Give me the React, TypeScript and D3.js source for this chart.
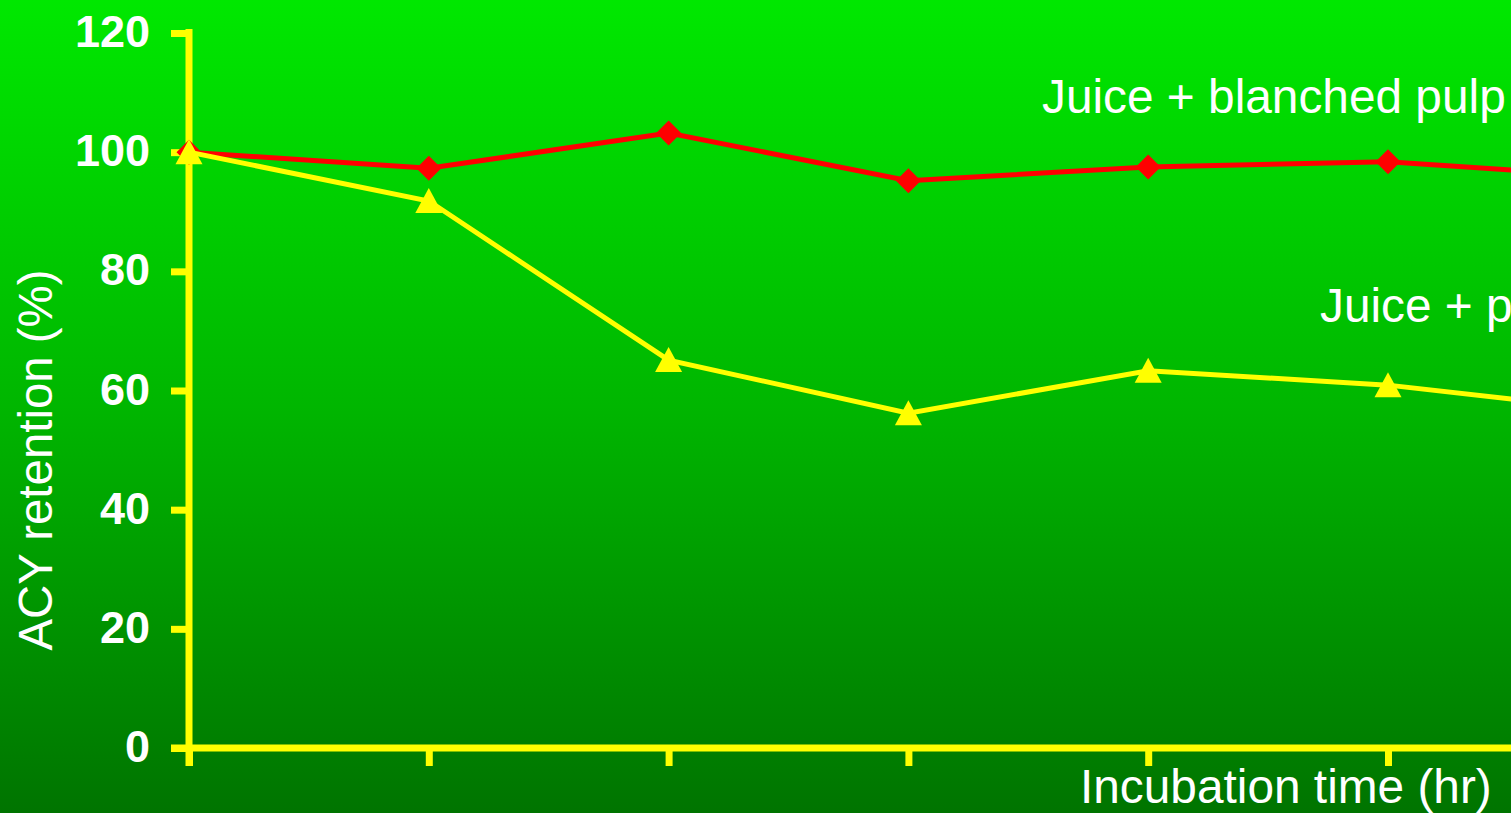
import React from "react";
import * as d3 from "d3";

// incubation time points (index), x axis has no labels
const timePoints = [0, 1, 2, 3, 4, 5, 6];
const blanchedPulp = [100, 97.3, 103.2, 95.2, 97.5, 98.4, 95.7];
const rawPulp = [100, 91.8, 65.1, 56.2, 63.3, 60.9, 56.4];
const yTicks = [0, 20, 40, 60, 80, 100, 120];

const W = 1511;
const H = 813;
const FONT = "'Liberation Sans', Arial, Helvetica, sans-serif";

const App: React.FC = () => {
  const svgRef = React.useRef<SVGSVGElement>(null);

  React.useEffect(() => {
    const svgEl = d3.select(svgRef.current);
    svgEl.selectAll("*").remove();

    // background gradient
    const defs = svgEl.append("defs");
    const grad = defs
      .append("linearGradient")
      .attr("id", "bg_grad")
      .attr("x1", 0)
      .attr("y1", 0)
      .attr("x2", 0)
      .attr("y2", 1);
    grad.append("stop").attr("offset", "0%").attr("stop-color", "#00e800");
    grad.append("stop").attr("offset", "50%").attr("stop-color", "#00b600");
    grad.append("stop").attr("offset", "100%").attr("stop-color", "#007400");

    svgEl
      .append("rect")
      .attr("width", W)
      .attr("height", H)
      .attr("fill", "url(#bg_grad)");

    const xScale = d3.scaleLinear().domain([0, 6]).range([189, 189 + 6 * 239.8]);
    const yScale = d3.scaleLinear().domain([0, 120]).range([748, 33]);

    const axisColor = "#ffff00";

    // y axis ticks + labels
    const yAxis = d3
      .axisLeft(yScale)
      .tickValues(yTicks)
      .tickSize(18)
      .tickSizeOuter(0)
      .tickPadding(21);

    const yAxisGroup = svgEl
      .append("g")
      .attr("transform", `translate(${xScale(0)},0)`)
      .call(yAxis);
    yAxisGroup.select(".domain").remove();
    yAxisGroup
      .selectAll("line")
      .attr("stroke", axisColor)
      .attr("stroke-width", 7);
    yAxisGroup
      .selectAll("text")
      .attr("fill", "white")
      .attr("font-family", FONT)
      .attr("font-weight", "bold")
      .attr("font-size", 45)
      .attr("dy", "0.3em");

    // x axis ticks (no labels)
    const xAxis = d3
      .axisBottom(xScale)
      .tickValues(timePoints)
      .tickSize(18)
      .tickSizeOuter(0)
      .tickFormat(() => "");
    const xAxisGroup = svgEl
      .append("g")
      .attr("transform", `translate(0,${yScale(0)})`)
      .call(xAxis);
    xAxisGroup.select(".domain").remove();
    xAxisGroup
      .selectAll("line")
      .attr("stroke", axisColor)
      .attr("stroke-width", 7);

    // axis lines
    svgEl
      .append("line")
      .attr("x1", xScale(0))
      .attr("x2", xScale(0))
      .attr("y1", yScale(120) - 4)
      .attr("y2", yScale(0) + 18)
      .attr("stroke", axisColor)
      .attr("stroke-width", 7);
    svgEl
      .append("line")
      .attr("x1", xScale(0) - 18)
      .attr("x2", W + 10)
      .attr("y1", yScale(0))
      .attr("y2", yScale(0))
      .attr("stroke", axisColor)
      .attr("stroke-width", 7);

    const lineDef = d3
      .line<number>()
      .x((d, i) => xScale(timePoints[i]))
      .y((d) => yScale(d));

    // blanched pulp series (red diamonds)
    svgEl
      .append("path")
      .attr("d", lineDef(blanchedPulp))
      .attr("fill", "none")
      .attr("stroke", "#ff0000")
      .attr("stroke-width", 5);
    svgEl
      .append("g")
      .selectAll("path")
      .data(blanchedPulp)
      .join("path")
      .attr("transform", (d, i) => `translate(${xScale(timePoints[i])},${yScale(d)})`)
      .attr("d", "M0,-12.5L12.5,0L0,12.5L-12.5,0Z")
      .attr("fill", "#ff0000");

    // pulp series (yellow triangles)
    svgEl
      .append("path")
      .attr("d", lineDef(rawPulp))
      .attr("fill", "none")
      .attr("stroke", "#ffff00")
      .attr("stroke-width", 5);
    svgEl
      .append("g")
      .selectAll("path")
      .data(rawPulp)
      .join("path")
      .attr("transform", (d, i) => `translate(${xScale(timePoints[i])},${yScale(d)})`)
      .attr("d", "M0,-13L13.5,12L-13.5,12Z")
      .attr("fill", "#ffff00");

    // series labels
    svgEl
      .append("text")
      .attr("x", 1042)
      .attr("y", 113)
      .attr("fill", "white")
      .attr("font-family", FONT)
      .attr("font-size", 47.8)
      .text("Juice + blanched pulp");
    svgEl
      .append("text")
      .attr("x", 1320)
      .attr("y", 322)
      .attr("fill", "white")
      .attr("font-family", FONT)
      .attr("font-size", 47.8)
      .text("Juice + pulp");

    // axis titles
    svgEl
      .append("text")
      .attr("x", 1080)
      .attr("y", 803)
      .attr("fill", "white")
      .attr("font-family", FONT)
      .attr("font-size", 47.8)
      .text("Incubation time (hr)");
    svgEl
      .append("text")
      .attr("transform", "translate(52,460) rotate(-90)")
      .attr("text-anchor", "middle")
      .attr("fill", "white")
      .attr("font-family", FONT)
      .attr("font-size", 47.4)
      .text("ACY retention (%)");
  }, []);

  return (
    <svg
      ref={svgRef}
      width={W}
      height={H}
      style={{ position: "fixed", top: 0, left: 0, display: "block", overflow: "hidden" }}
    />
  );
};

export default App;
